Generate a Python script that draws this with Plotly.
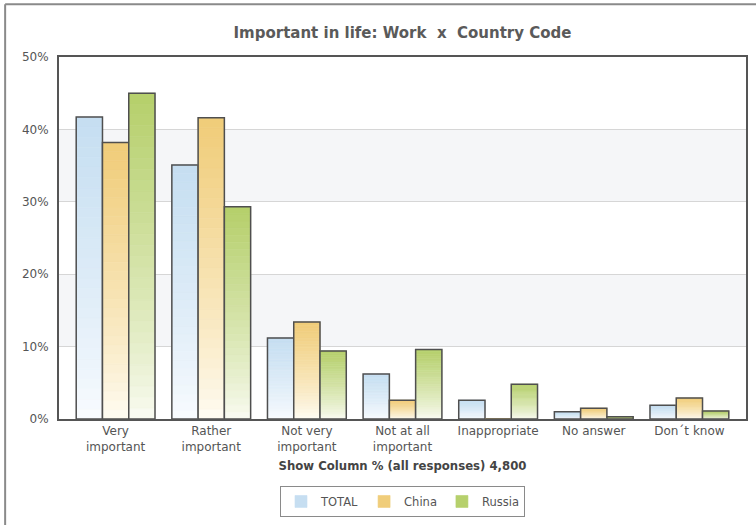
import plotly.graph_objects as go

categories = ["Very<br>important", "Rather<br>important", "Not very<br>important",
              "Not at all<br>important", "Inappropriate", "No answer", "Don\u00b4t know"]
series_names = ["TOTAL", "China", "Russia"]
total = [41.7, 35.1, 11.2, 6.2, 2.6, 1.0, 1.9]
china = [38.2, 41.6, 13.4, 2.6, 0.0, 1.5, 2.9]
russia = [45.0, 29.3, 9.4, 9.6, 4.8, 0.3, 1.1]
values = [total, china, russia]

top_colors = [(197, 222, 241), (240, 204, 120), (181, 207, 106)]
bottom_colors = [(250, 252, 255), (255, 253, 245), (251, 252, 245)]

N_SLICES = 30


def mix(c1, c2, t):
    return "rgb(%d,%d,%d)" % tuple(round(a + (b - a) * t) for a, b in zip(c1, c2))


fig = go.Figure()
for name, vals, ctop, cbot in zip(series_names, values, top_colors, bottom_colors):
    for k in range(N_SLICES):
        t = (k + 0.5) / N_SLICES
        col = mix(cbot, ctop, t ** 0.8)
        fig.add_trace(go.Bar(
            x=categories,
            y=[v / N_SLICES for v in vals],
            base=[v * k / N_SLICES for v in vals],
            offsetgroup=name,
            name=name,
            legendgroup=name,
            showlegend=(k == N_SLICES - 1),
            marker=dict(color=col, line=dict(color=col, width=0.6)),
            hoverinfo="skip",
        ))
    fig.add_trace(go.Bar(
        x=categories,
        y=vals,
        offsetgroup=name,
        name=name,
        legendgroup=name,
        showlegend=False,
        marker=dict(color="rgba(0,0,0,0)", line=dict(color="#4f4f4f", width=1.5)),
    ))

bands = [(10, 20), (30, 40)]
shapes = []
for y0, y1 in bands:
    shapes.append(dict(type="rect", xref="paper", yref="y", x0=0, x1=1, y0=y0, y1=y1,
                       fillcolor="#f5f6f8", line=dict(width=0), layer="below"))
# outer frame (left and top)
shapes.append(dict(type="line", xref="paper", yref="paper", x0=-0.0784, x1=-0.0784,
                   y0=1.146, y1=-0.30, line=dict(color="#8a8a8a", width=2)))
shapes.append(dict(type="line", xref="paper", yref="paper", x0=-0.0784, x1=1.02,
                   y0=1.146, y1=1.146, line=dict(color="#8a8a8a", width=2)))

fig.update_layout(
    width=756, height=525,
    margin=dict(l=59, r=8, t=57, b=105),
    paper_bgcolor="white", plot_bgcolor="white",
    barmode="group", bargap=0.176, bargroupgap=0,
    font=dict(family="DejaVu Sans", size=12, color="#555555"),
    title=dict(text="<b>Important in life: Work  x  Country Code</b>",
               x=0.5, xref="paper", xanchor="center",
               y=1 - 33 / 525, yanchor="middle",
               font=dict(family="DejaVu Sans", size=15, color="#5a5a5a")),
    shapes=shapes,
    showlegend=True,
    legend=dict(orientation="h", x=0.5, xanchor="center", y=-0.185, yanchor="top",
                bordercolor="#8a8a8a", borderwidth=1, bgcolor="white",
                font=dict(size=11.5, color="#555555"), traceorder="normal",
                itemwidth=30, tracegroupgap=0),
    xaxis=dict(showgrid=False, showline=True, linecolor="#555555", linewidth=2,
               mirror=True, ticks="", range=[-0.592, 6.592],
               tickfont=dict(size=12, color="#555555"),
               title=dict(text="<b>Show Column % (all responses) 4,800</b>",
                          font=dict(size=11.7, color="#444444"), standoff=9)),
    yaxis=dict(range=[0, 50], dtick=10, ticksuffix="%", showgrid=True,
               gridcolor="#d6d6d6", gridwidth=1, showline=True, linecolor="#555555",
               linewidth=2, mirror=True, zeroline=False, ticks="",
               ticklabelstandoff=6, tickfont=dict(size=12, color="#555555")),
)

fig.write_html("out.html")
